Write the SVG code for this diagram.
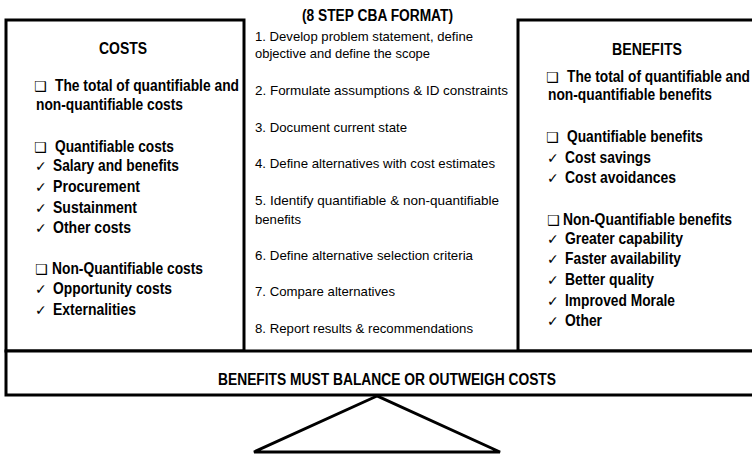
<svg xmlns="http://www.w3.org/2000/svg" width="752" height="454" viewBox="0 0 752 454">
<style>
.box{fill:#fff;stroke:#000;stroke-width:3}
.h{font-family:"Liberation Sans",Arial,sans-serif;font-weight:bold;font-size:16px;fill:#000}
.b{font-family:"Liberation Sans",Arial,sans-serif;font-weight:bold;font-size:16.5px;fill:#000}
.m{font-family:"Liberation Sans",Arial,sans-serif;font-size:13.5px;fill:#000}
.sq{font-family:"DejaVu Sans",sans-serif;font-size:14px;fill:#000}
.ck{font-family:"DejaVu Sans",sans-serif;font-size:14px;fill:#000}
</style>
<rect width="752" height="454" fill="#fff"/>
<g id="costs">
<rect class="box" x="6" y="20" width="238" height="331"/>
<text class="h" x="99" y="54" textLength="48" lengthAdjust="spacingAndGlyphs">COSTS</text>
<text class="sq" x="34" y="91">❑</text>
<text class="b" x="55" y="91" textLength="184" lengthAdjust="spacingAndGlyphs">The total of quantifiable and</text>
<text class="b" x="36" y="110" textLength="147" lengthAdjust="spacingAndGlyphs">non-quantifiable costs</text>
<text class="sq" x="34" y="152">❑</text>
<text class="b" x="55" y="152" textLength="119" lengthAdjust="spacingAndGlyphs">Quantifiable costs</text>
<text class="ck" x="35" y="171">✓</text>
<text class="b" x="53" y="171" textLength="126" lengthAdjust="spacingAndGlyphs">Salary and benefits</text>
<text class="ck" x="35" y="192">✓</text>
<text class="b" x="53" y="192" textLength="87" lengthAdjust="spacingAndGlyphs">Procurement</text>
<text class="ck" x="35" y="213">✓</text>
<text class="b" x="53" y="213" textLength="84" lengthAdjust="spacingAndGlyphs">Sustainment</text>
<text class="ck" x="35" y="233">✓</text>
<text class="b" x="53" y="233" textLength="78" lengthAdjust="spacingAndGlyphs">Other costs</text>
<text class="sq" x="35" y="274">❑</text>
<text class="b" x="52" y="274" textLength="151" lengthAdjust="spacingAndGlyphs">Non-Quantifiable costs</text>
<text class="ck" x="35" y="294">✓</text>
<text class="b" x="53" y="294" textLength="119" lengthAdjust="spacingAndGlyphs">Opportunity costs</text>
<text class="ck" x="35" y="315">✓</text>
<text class="b" x="53" y="315" textLength="83" lengthAdjust="spacingAndGlyphs">Externalities</text>
</g>
<g id="steps">
<text class="h" x="302" y="21" font-size="14px" textLength="151" lengthAdjust="spacingAndGlyphs">(8 STEP CBA FORMAT)</text>
<text class="m" x="255" y="41" textLength="218" lengthAdjust="spacingAndGlyphs">1.  Develop problem statement, define</text>
<text class="m" x="255" y="58" textLength="175" lengthAdjust="spacingAndGlyphs">objective and define the scope</text>
<text class="m" x="255" y="95" textLength="253" lengthAdjust="spacingAndGlyphs">2.  Formulate assumptions &amp;  ID constraints</text>
<text class="m" x="255" y="132" textLength="152" lengthAdjust="spacingAndGlyphs">3.  Document current state</text>
<text class="m" x="255" y="168" textLength="240" lengthAdjust="spacingAndGlyphs">4.  Define alternatives with cost estimates</text>
<text class="m" x="255" y="205" textLength="244" lengthAdjust="spacingAndGlyphs">5.  Identify quantifiable   &amp; non-quantifiable</text>
<text class="m" x="255" y="224" textLength="46" lengthAdjust="spacingAndGlyphs">benefits</text>
<text class="m" x="255" y="260" textLength="218" lengthAdjust="spacingAndGlyphs">6.  Define alternative selection criteria</text>
<text class="m" x="255" y="296" textLength="140" lengthAdjust="spacingAndGlyphs">7.  Compare alternatives</text>
<text class="m" x="255" y="333" textLength="218" lengthAdjust="spacingAndGlyphs">8.  Report results &amp; recommendations</text>
</g>
<g id="benefits">
<rect class="box" x="518" y="20" width="250" height="331"/>
<text class="h" x="612" y="55" textLength="70" lengthAdjust="spacingAndGlyphs">BENEFITS</text>
<text class="sq" x="546" y="82">❑</text>
<text class="b" x="567" y="82" font-size="14px" textLength="183" lengthAdjust="spacingAndGlyphs">The total of quantifiable and</text>
<text class="b" x="548" y="100" textLength="164" lengthAdjust="spacingAndGlyphs">non-quantifiable benefits</text>
<text class="sq" x="546" y="142">❑</text>
<text class="b" x="567" y="142" textLength="136" lengthAdjust="spacingAndGlyphs">Quantifiable benefits</text>
<text class="ck" x="547" y="163">✓</text>
<text class="b" x="565" y="163" textLength="86" lengthAdjust="spacingAndGlyphs">Cost savings</text>
<text class="ck" x="547" y="183">✓</text>
<text class="b" x="565" y="183" textLength="111" lengthAdjust="spacingAndGlyphs">Cost avoidances</text>
<text class="sq" x="547" y="225">❑</text>
<text class="b" x="563" y="225" font-size="15px" textLength="169" lengthAdjust="spacingAndGlyphs">Non-Quantifiable benefits</text>
<text class="ck" x="547" y="244">✓</text>
<text class="b" x="565" y="244" textLength="118" lengthAdjust="spacingAndGlyphs">Greater capability</text>
<text class="ck" x="547" y="264">✓</text>
<text class="b" x="565" y="264" textLength="116" lengthAdjust="spacingAndGlyphs">Faster availability</text>
<text class="ck" x="547" y="285">✓</text>
<text class="b" x="565" y="285" textLength="89" lengthAdjust="spacingAndGlyphs">Better quality</text>
<text class="ck" x="547" y="306">✓</text>
<text class="b" x="565" y="306" textLength="110" lengthAdjust="spacingAndGlyphs">Improved Morale</text>
<text class="ck" x="547" y="326">✓</text>
<text class="b" x="565" y="326" textLength="37" lengthAdjust="spacingAndGlyphs">Other</text>
</g>
<g id="balance">
<rect class="box" x="6" y="351" width="762" height="44"/>
<text class="h" x="218" y="385" textLength="338" lengthAdjust="spacingAndGlyphs">BENEFITS MUST BALANCE OR OUTWEIGH COSTS</text>
</g>
<g id="fulcrum">
<polygon points="377,396 254,452 500,452" fill="#fff" stroke="#000" stroke-width="3" stroke-linejoin="miter"/>
</g>
</svg>
